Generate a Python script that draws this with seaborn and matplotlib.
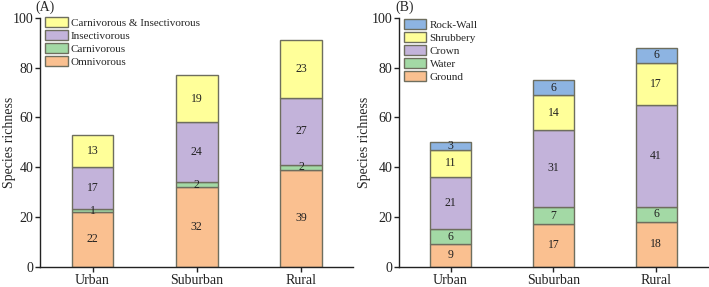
import numpy as np
import pandas as pd
import matplotlib
matplotlib.use("Agg")
import matplotlib.pyplot as plt
import seaborn as sns

sns.set_style("ticks")
plt.rcParams["font.family"] = ["Liberation Serif", "DejaVu Serif"]

# %% data
sites = ["Urban", "Suburban", "Rural"]

# (A) feeding guilds, bottom to top
diet_groups = ["Omnivorous", "Carnivorous", "Insectivorous", "Carnivorous & Insectivorous"]
omnivorous = [22, 32, 39]
carnivorous = [1, 2, 2]
insectivorous = [17, 24, 27]
carn_insect = [13, 19, 23]
diet_colors = ["#FAC090", "#A3D9A5", "#C3B3DA", "#FFFF99"]

# (B) foraging strata, bottom to top
strata_groups = ["Ground", "Water", "Crown", "Shrubbery", "Rock-Wall"]
ground = [9, 17, 18]
water = [6, 7, 6]
crown = [21, 31, 41]
shrubbery = [11, 14, 17]
rock_wall = [3, 6, 6]
strata_colors = ["#FAC090", "#A3D9A5", "#C3B3DA", "#FFFF99", "#8DB4E2"]

EDGE = "#6e6e5e"


def stacked(ax, groups, series, colors, legend_anchor, ylab_x, hh):
    bottom = np.zeros(len(sites))
    for name, vals, col in zip(groups, series, colors):
        df = pd.DataFrame({"site": sites, "n": vals})
        sns.barplot(df, x="site", y="n", order=sites, color=col, width=0.4,
                    bottom=bottom.copy(), edgecolor=EDGE, linewidth=1.0,
                    saturation=1, label=name, ax=ax)
        ax.bar_label(ax.containers[-1], labels=[str(v) for v in vals],
                     label_type="center", fontsize=8.5, color="#222222")
        bottom += np.array(vals)
    ax.set_xlim(-0.5, 2.5)
    ax.set_ylim(0, 100)
    ax.set_yticks([0, 20, 40, 60, 80, 100])
    ax.set_xlabel("")
    ax.set_ylabel("Species richness", fontsize=10)
    ax.yaxis.set_label_coords(ylab_x, 0.5)
    ax.tick_params(labelsize=10, length=3.5, width=1, pad=1.5, colors="#222222")
    for s in ["left", "bottom"]:
        ax.spines[s].set_linewidth(1.0)
        ax.spines[s].set_color("#222222")
    sns.despine(ax=ax)
    h, l = ax.get_legend_handles_labels()
    ax.legend(h[::-1], l[::-1], loc="upper left", bbox_to_anchor=legend_anchor,
              frameon=False, fontsize=8, handlelength=2.0, handleheight=hh,
              labelspacing=0.18, handletextpad=0.3, borderaxespad=0,
              borderpad=0)


fig = plt.figure(figsize=(7.09, 2.87), dpi=100)
ax_a = fig.add_axes([0.057, 0.071, 0.441, 0.866])
ax_b = fig.add_axes([0.563, 0.071, 0.435, 0.866])

stacked(ax_a, diet_groups, [omnivorous, carnivorous, insectivorous, carn_insect],
        diet_colors, (0.016, 1.005), -0.077, 1.05)
stacked(ax_b, strata_groups, [ground, water, crown, shrubbery, rock_wall],
        strata_colors, (0.016, 0.995), -0.09, 1.02)

fig.text(0.050, 0.975, "(A)", fontsize=10, va="center", ha="left")
fig.text(0.558, 0.975, "(B)", fontsize=10, va="center", ha="left")

fig.savefig("out.png", dpi=100)
